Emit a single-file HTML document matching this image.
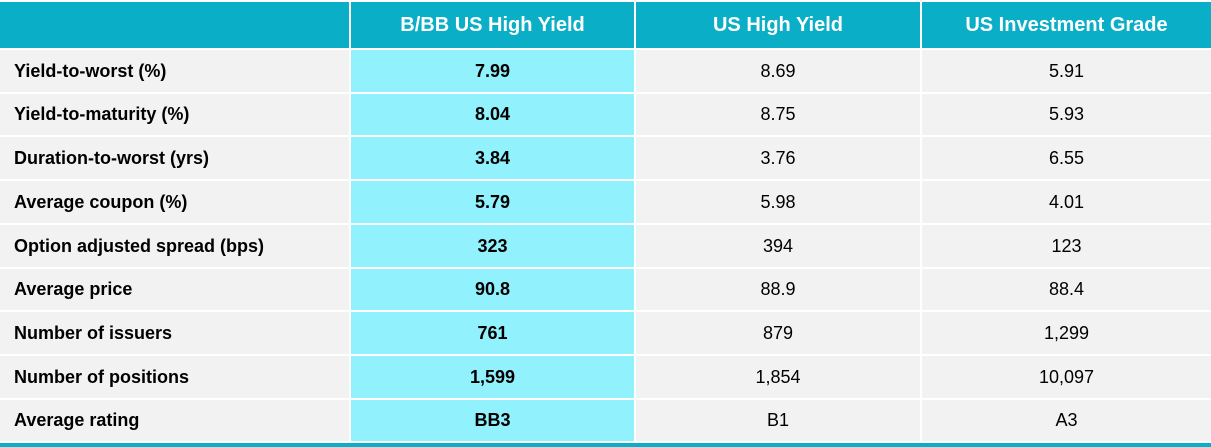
<!DOCTYPE html>
<html><head><meta charset="utf-8"><style>
body{margin:0;width:1211px;height:447px;background:#fff;font-family:"Liberation Sans",sans-serif;overflow:hidden;position:relative}
.c{position:absolute;display:flex;align-items:center;justify-content:center;box-sizing:border-box;font-size:18px;color:#000}
.h{background:#0aaec6;color:#fff;font-weight:bold;font-size:20px}
.l{justify-content:flex-start;padding-left:14px;font-weight:bold;background:#f2f2f2}
.b{background:#91f1fc;font-weight:bold}
.n{background:#f2f2f2}
</style></head><body>
<div id="t"></div>
<script>
const metrics=["Yield-to-worst (%)","Yield-to-maturity (%)","Duration-to-worst (yrs)","Average coupon (%)","Option adjusted spread (bps)","Average price","Number of issuers","Number of positions","Average rating"];
const headers=["B/BB US High Yield","US High Yield","US Investment Grade"];
const bbValues=["7.99","8.04","3.84","5.79","323","90.8","761","1,599","BB3"];
const hyValues=["8.69","8.75","3.76","5.98","394","88.9","879","1,854","B1"];
const igValues=["5.91","5.93","6.55","4.01","123","88.4","1,299","10,097","A3"];
const cols=[[0,349],[351,634],[636,920],[922,1211]];
const t=document.getElementById('t');
function cell(x,y,w,h,cls,txt,name){const d=document.createElement('div');d.className='c '+cls;d.style.left=x+'px';d.style.top=y+'px';d.style.width=w+'px';d.style.height=h+'px';d.textContent=txt;


t.appendChild(d);}
cell(0,2,349,46,'h','','header-blank');
headers.forEach((h,i)=>cell(cols[i+1][0],2,cols[i+1][1]-cols[i+1][0],46,'h',h,'column-header'));
const top0=50,rh=43.7;
const series=[bbValues,hyValues,igValues];
metrics.forEach((m,r)=>{const y=Math.round(top0+r*rh);const h=Math.round(top0+(r+1)*rh)-y-2;
cell(0,y,349,h,'l',m,'row-label');
series.forEach((s,i)=>cell(cols[i+1][0],y,cols[i+1][1]-cols[i+1][0],h,i===0?'b':'n',s[r],'value-cell'));});
const bl=document.createElement('div');bl.style.cssText='position:absolute;left:0;top:443px;width:1211px;height:4px;background:#0aaec6';


t.appendChild(bl);
</script>
</body></html>
